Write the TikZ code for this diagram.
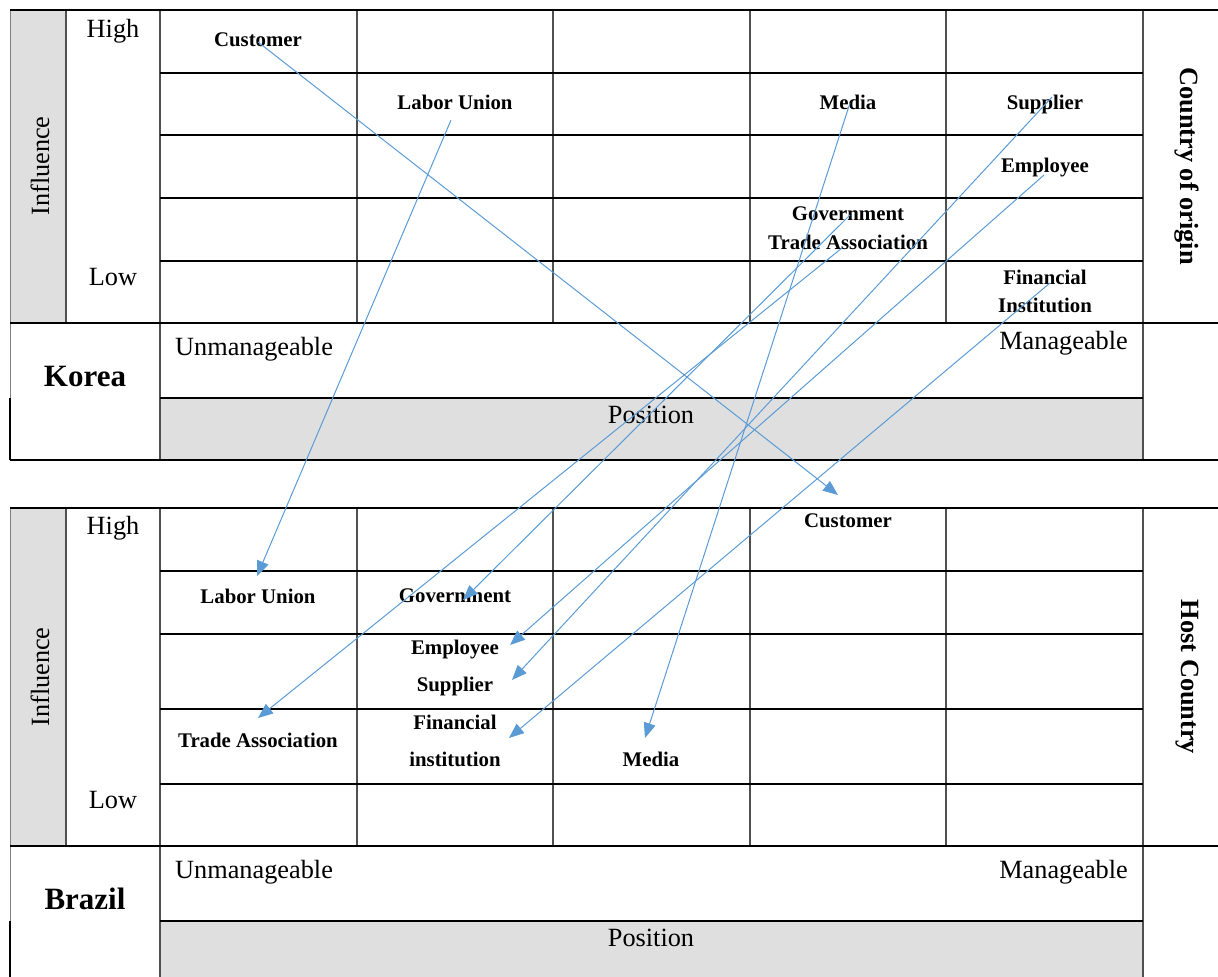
\documentclass[tikz,border=0pt]{standalone}
\usepackage{fontspec}
\setmainfont{Liberation Serif}
\usetikzlibrary{arrows.meta}
\definecolor{linkblue}{HTML}{5B9BD5}
\definecolor{panelgray}{HTML}{DFDFDF}
\definecolor{rulegray}{HTML}{505050}
\begin{document}
\begin{tikzpicture}[x=1pt,y=-1pt,
  hrule/.style={line width=2pt, black},
  vrule/.style={line width=1.2pt, rulegray},
  edgerule/.style={line width=0.8pt, gray},
  lbl/.style={font=\fontsize{20.8}{28}\selectfont\bfseries, inner sep=0pt, align=center},
  lblwide/.style={lbl, font=\fontsize{20.8}{37}\selectfont\bfseries},
  axislbl/.style={font=\fontsize{26.3}{30}\selectfont, inner sep=0pt},
  countrylbl/.style={font=\fontsize{31}{34}\selectfont\bfseries, inner sep=0pt},
  sidelbl/.style={font=\fontsize{26.3}{30}\selectfont\bfseries, inner sep=0pt, rotate=-90},
  link/.style={linkblue, line width=1pt, -{Triangle[length=15pt,width=12pt]}}
]
\useasboundingbox (0,0) rectangle (1218,977);

% ---------- upper panel: country of origin ----------
\fill[panelgray] (10,10) rectangle (66,323);
\fill[panelgray] (160,398) rectangle (1143,460);
\draw[edgerule] (10,10) -- (10,398);
\draw[hrule] (10,398) -- (10,460);
\draw[vrule] (66,10) -- (66,323);
\draw[vrule] (160,10) -- (160,460);
\foreach \x in {357,553,750,946} \draw[vrule] (\x,10) -- (\x,323);
\draw[vrule] (1143,10) -- (1143,460);
\draw[hrule] (10,10) -- (1218,10);
\foreach \y in {73,135,198,261} \draw[hrule] (160,\y) -- (1143,\y);
\draw[hrule] (10,323) -- (1218,323);
\draw[hrule] (160,398) -- (1143,398);
\draw[hrule] (10,460) -- (1218,460);

\node[axislbl] (highK) at (113,31) {High};
\node[axislbl] (lowK) at (113,277) {Low};
\node[axislbl, rotate=90] (inflK) at (40,166) {Influence};
\node[sidelbl] (originK) at (1187,166) {Country of origin};
\node[countrylbl] (korea) at (85,376) {Korea};
\node[axislbl, anchor=west] (unK) at (175,349) {Unmanageable};
\node[axislbl, anchor=east] (manK) at (1128,343) {Manageable};
\node[axislbl] (posK) at (651,415) {Position};

\node[lbl] (custK) at (258,40) {Customer};
\node[lbl] (laborK) at (455,102) {Labor Union};
\node[lbl] (mediaK) at (848,102) {Media};
\node[lbl] (suppK) at (1045,104) {Supplier};
\node[lbl] (emplK) at (1045,168) {Employee};
\node[lbl] (govK) at (848,214) {Government};
\node[lbl] (tradeK) at (848,242) {Trade Association};
\node[lbl] (finK) at (1045,291) {Financial\\Institution};

% ---------- lower panel: host country ----------
\fill[panelgray] (10,508) rectangle (66,846);
\fill[panelgray] (160,921) rectangle (1143,977);
\draw[edgerule] (10,508) -- (10,921);
\draw[hrule] (10,921) -- (10,977);
\draw[vrule] (66,508) -- (66,846);
\draw[vrule] (160,508) -- (160,977);
\foreach \x in {357,553,750,946} \draw[vrule] (\x,508) -- (\x,846);
\draw[vrule] (1143,508) -- (1143,977);
\draw[hrule] (10,508) -- (1218,508);
\foreach \y in {571,634,709,784} \draw[hrule] (160,\y) -- (1143,\y);
\draw[hrule] (10,846) -- (1218,846);
\draw[hrule] (160,921) -- (1143,921);

\node[axislbl] (highH) at (113,528) {High};
\node[axislbl] (lowH) at (113,800) {Low};
\node[axislbl, rotate=90] (inflH) at (40,677) {Influence};
\node[sidelbl] (hostH) at (1187,677) {Host Country};
\node[countrylbl] (brazil) at (85,899) {Brazil};
\node[axislbl, anchor=west] (unH) at (175,872) {Unmanageable};
\node[axislbl, anchor=east] (manH) at (1128,872) {Manageable};
\node[axislbl] (posH) at (651,938) {Position};

\node[lbl] (custH) at (848,521) {Customer};
\node[lbl] (laborH) at (258,596) {Labor Union};
\node[lbl] (govH) at (455,596) {Government};
\node[lbl] (emplH) at (455,650) {Employee};
\node[lbl] (suppH) at (455,686) {Supplier};
\node[lbl] (tradeH) at (258,740) {Trade Association};
\node[lblwide] (finH) at (455,740.5) {Financial\\institution};
\node[lbl] (mediaH) at (651,759) {Media};

% ---------- shifts between the two positions ----------
\coordinate (custK-o) at (258,42);    \coordinate (custH-i) at (838,495);
\coordinate (laborK-o) at (451,120);  \coordinate (laborH-i) at (257,576);
\coordinate (mediaK-o) at (850,103);  \coordinate (mediaH-i) at (645,738);
\coordinate (suppK-o) at (1052,97);   \coordinate (suppH-i) at (512,680);
\coordinate (emplK-o) at (1044,175);  \coordinate (emplH-i) at (510,645);
\coordinate (govK-o) at (850,215);    \coordinate (govH-i) at (463,600);
\coordinate (tradeK-o) at (842,248);  \coordinate (tradeH-i) at (258,718);
\coordinate (finK-o) at (1050,283);   \coordinate (finH-i) at (509,738);

\draw[link] (custK-o) -- (custH-i);
\draw[link] (laborK-o) -- (laborH-i);
\draw[link] (mediaK-o) -- (mediaH-i);
\draw[link] (suppK-o) -- (suppH-i);
\draw[link] (emplK-o) -- (emplH-i);
\draw[link] (govK-o) -- (govH-i);
\draw[link] (tradeK-o) -- (tradeH-i);
\draw[link] (finK-o) -- (finH-i);
\end{tikzpicture}
\end{document}
